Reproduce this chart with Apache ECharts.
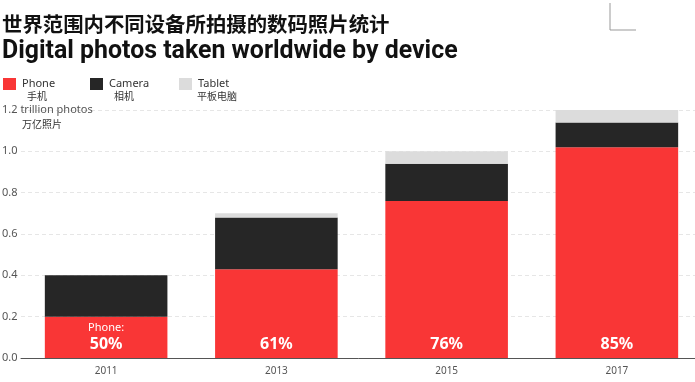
<!DOCTYPE html>
<html><head><meta charset="utf-8">
<script src="https://cdn.jsdelivr.net/npm/echarts@6/dist/echarts.min.js"></script>
<style>html,body{margin:0;padding:0;background:#fff}#c{width:695px;height:382px}</style>
</head><body><div id="c"></div>
<script>
const years = ['2011','2013','2015','2017'];
const phone = [0.20, 0.43, 0.76, 1.02];
const camera = [0.20, 0.25, 0.18, 0.12];
const tablet = [0.00, 0.02, 0.06, 0.06];
const seriesNames = ['Phone','Camera','Tablet'];
const seriesNamesZh = ['手机','相机','平板电脑'];
const colors = ['#f93636','#262626','#dcdcdc'];
const yTicks = [0, 0.2, 0.4, 0.6, 0.8, 1.0, 1.2];

const chart = echarts.init(document.getElementById('c'));
const legendX = [3, 90, 179];
const graphics = [
  {type:'text', left:2, top:14, style:{text:'世界范围内不同设备所拍摄的数码照片统计', font:'bold 20.4px "Noto Sans CJK SC"', fill:'#111'}},
  {type:'text', left:2, top:39, style:{text:'Digital photos taken worldwide by device', font:'bold 24.9px Roboto', fill:'#111'}},
  {type:'polyline', shape:{points:[[610,3],[610,30],[636,30]]}, style:{stroke:'#999', lineWidth:1, fill:null}},
  {type:'text', left:22, top:119, style:{text:'万亿照片', font:'10px "Noto Sans CJK SC"', fill:'#333'}}
];
seriesNames.forEach((n,i)=>{
  graphics.push({type:'rect', shape:{x:legendX[i], y:78, width:13, height:12}, style:{fill:colors[i]}});
  graphics.push({type:'text', left:legendX[i]+19, top:78, style:{text:n, font:'11px "Noto Sans"', fill:'#333'}});
  graphics.push({type:'text', left:legendX[i]+ (i===2?18:24), top:91, style:{text:seriesNamesZh[i], font:'10px "Noto Sans CJK SC"', fill:'#333'}});
});

const totals = years.map((_,i)=>phone[i]+camera[i]+tablet[i]);
chart.setOption({
  animation:false,
  grid:{left:21, top:110, width:681, height:248, containLabel:false, outerBoundsMode:'none'},
  graphic:graphics,
  xAxis:{type:'category', data:years, axisTick:{show:false},
    axisLine:{lineStyle:{color:'#555', width:1}},
    axisLabel:{color:'#555', fontSize:10, margin:8, fontFamily:'"Noto Sans"'}},
  yAxis:{type:'value', min:0, max:1.2, interval:0.2,
    axisLabel:{align:'left', margin:19, color:'#555', fontSize:11, fontFamily:'"Noto Sans"',
      formatter:v=> Math.abs(v-1.2)<1e-9 ? '1.2 trillion photos' : v.toFixed(1)},
    splitLine:{lineStyle:{color:'#e6e6e6', type:[4,3]}}},
  series:[
    {name:'Phone', type:'bar', stack:'a', data:phone, barWidth:'72%', itemStyle:{color:colors[0]},
     label:{show:true, position:'insideBottom', distance:5, color:'#fff',
       formatter:p=>{const pct=Math.round(phone[p.dataIndex]/totals[p.dataIndex]*100)+'%';
         return p.dataIndex===0 ? '{s|Phone:}\n{b|'+pct+'}' : '{b|'+pct+'}';},
       rich:{s:{fontSize:11, color:'#fff', fontFamily:'"Noto Sans"', lineHeight:14},
             b:{fontSize:16, fontWeight:'bold', color:'#fff', fontFamily:'"Noto Sans"', lineHeight:18}}}},
    {name:'Camera', type:'bar', stack:'a', data:camera, itemStyle:{color:colors[1]}},
    {name:'Tablet', type:'bar', stack:'a', data:tablet, itemStyle:{color:colors[2]}}
  ]
});
</script></body></html>
